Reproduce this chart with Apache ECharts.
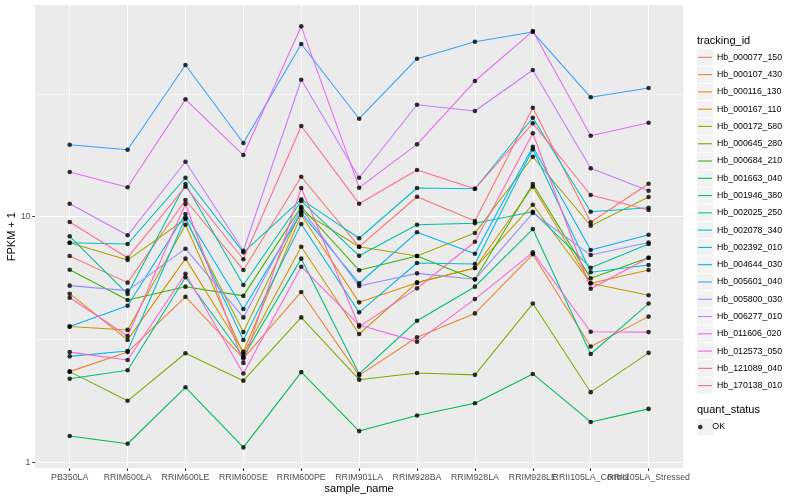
<!DOCTYPE html>
<html>
<head>
<meta charset="utf-8">
<script src="https://cdn.jsdelivr.net/npm/echarts@6/dist/echarts.min.js"></script>
<style>
html,body{margin:0;padding:0;background:#fff;}
#chart{width:800px;height:500px;}
</style>
</head>
<body>
<div id="chart"></div>
<script>
// ---- data ----
const categories = ["PB350LA","RRIM600LA","RRIM600LE","RRIM600SE","RRIM600PE","RRIM901LA","RRIM928BA","RRIM928LA","RRIM928LE","RRII105LA_Control","RRII105LA_Stressed"];
const trackingIds = ["Hb_000077_150","Hb_000107_430","Hb_000116_130","Hb_000167_110","Hb_000172_580","Hb_000645_280","Hb_000684_210","Hb_001663_040","Hb_001946_380","Hb_002025_250","Hb_002078_340","Hb_002392_010","Hb_004644_030","Hb_005601_040","Hb_005800_030","Hb_006277_010","Hb_011606_020","Hb_012573_050","Hb_121089_040","Hb_170138_010"];
const colors = ["#F8766D","#EA8331","#D89000","#C09B00","#A3A500","#7CAE00","#39B600","#00BB4E","#00BF7D","#00C1A3","#00BFC4","#00BAE0","#00B0F6","#35A2FF","#9590FF","#C77CFF","#E76BF3","#FA62DB","#FF62BC","#FF6C91"];

const hb_000077_150 = [6.92, 5.39, 11.70, 6.07, 14.55, 7.55, 12.06, 9.61, 27.78, 9.49, 13.63];
const hb_000107_430 = [2.34, 2.81, 4.72, 2.65, 4.94, 2.26, 3.23, 4.04, 7.03, 2.96, 3.92];
const hb_000116_130 = [4.86, 3.15, 6.75, 2.82, 10.16, 4.48, 5.39, 6.18, 13.25, 5.36, 6.07];
const hb_000167_110 = [3.57, 3.46, 9.28, 2.76, 7.55, 3.33, 5.39, 6.18, 11.19, 5.36, 4.79];
const hb_000172_580 = [7.84, 6.66, 9.79, 3.39, 10.55, 7.55, 6.92, 8.58, 17.55, 9.19, 12.03];
const hb_000645_280 = [2.34, 1.78, 2.78, 2.15, 3.89, 2.17, 2.31, 2.27, 4.43, 1.93, 2.79];
const hb_000684_210 = [6.08, 4.58, 5.19, 4.76, 10.98, 6.05, 6.92, 5.56, 13.59, 5.61, 6.81];
const hb_001663_040 = [1.28, 1.19, 2.02, 1.15, 2.33, 1.34, 1.55, 1.74, 2.29, 1.46, 1.65];
const hb_001946_380 = [2.19, 2.37, 5.67, 2.69, 6.75, 2.29, 3.77, 5.19, 8.91, 2.76, 4.43];
const hb_002025_250 = [8.32, 4.85, 13.59, 5.27, 11.59, 6.93, 9.28, 9.40, 10.48, 6.20, 7.74];
const hb_002078_340 = [7.84, 7.74, 14.41, 7.16, 11.77, 8.17, 13.09, 13.00, 25.30, 10.48, 10.88];
const hb_002392_010 = [2.70, 2.84, 9.91, 3.15, 9.34, 4.08, 6.48, 6.42, 18.81, 5.94, 6.36];
const hb_004644_030 = [3.57, 4.34, 10.26, 4.21, 10.35, 5.36, 8.64, 7.07, 19.28, 7.32, 8.45];
const hb_005601_040 = [19.64, 18.74, 41.47, 19.96, 50.49, 25.06, 43.99, 51.58, 56.49, 30.64, 33.42];
const hb_005800_030 = [5.24, 5.00, 7.41, 3.89, 10.82, 5.22, 5.88, 5.56, 10.35, 6.98, 7.85];
const hb_006277_010 = [11.30, 8.40, 16.75, 7.27, 36.13, 14.41, 28.58, 26.94, 39.57, 15.74, 12.76];
const hb_011606_020 = [15.21, 13.18, 30.06, 17.83, 59.60, 13.13, 19.71, 35.69, 57.03, 21.37, 24.14];
const hb_012573_050 = [2.81, 2.61, 5.86, 2.30, 6.26, 3.62, 3.10, 4.62, 7.16, 3.40, 3.39];
const hb_121089_040 = [4.68, 3.27, 11.27, 2.54, 13.09, 3.57, 5.11, 7.91, 21.86, 5.09, 6.81];
const hb_170138_010 = [9.52, 6.81, 13.25, 6.71, 23.40, 11.30, 15.49, 13.00, 24.01, 12.26, 10.65];

const seriesValues = [hb_000077_150, hb_000107_430, hb_000116_130, hb_000167_110, hb_000172_580,
  hb_000645_280, hb_000684_210, hb_001663_040, hb_001946_380, hb_002025_250, hb_002078_340,
  hb_002392_010, hb_004644_030, hb_005601_040, hb_005800_030, hb_006277_010, hb_011606_020,
  hb_012573_050, hb_121089_040, hb_170138_010];

const quantStatus = ["OK"];
const yTicks = [1, 10];
const yMinorTicks = [3.1623, 31.623];
const yMin = 0.9453;
const yMax = 72.8;

// ---- layout / style ----
const FONT = "Liberation Sans";
const legendTop1 = 57.33;
const legendStep = 17.28;
const legendTop2 = 427;

const chart = echarts.init(document.getElementById('chart'), null, {renderer: 'canvas'});

const lineSeries = seriesValues.map((vals, i) => ({
  type: 'line',
  name: trackingIds[i],
  xAxisIndex: 1,
  yAxisIndex: 2,
  data: vals,
  symbol: 'none',
  showSymbol: false,
  silent: true,
  z: 2,
  lineStyle: {color: colors[i], width: 1.07},
  itemStyle: {color: colors[i]},
  emphasis: {disabled: true}
}));

const pointData = [];
seriesValues.forEach(vals => vals.forEach((v, j) => pointData.push([categories[j], v])));

const graphics = [];
trackingIds.forEach((id, i) => {
  graphics.push({type: 'rect', silent: true, z: 0,
    shape: {x: 697, y: legendTop1 + i * legendStep - 8.14, width: 16, height: 16.28},
    style: {fill: '#f2f2f2'}});
});
graphics.push({type: 'rect', silent: true, z: 0,
  shape: {x: 697, y: legendTop2 - 8.14, width: 16, height: 16.28}, style: {fill: '#f2f2f2'}});
graphics.push({type: 'text', silent: true, x: 697, y: 40.5,
  style: {text: 'tracking_id', fontSize: 11, fontFamily: FONT, fill: '#000', verticalAlign: 'middle'}});
graphics.push({type: 'text', silent: true, x: 697, y: 410.4,
  style: {text: 'quant_status', fontSize: 11, fontFamily: FONT, fill: '#000', verticalAlign: 'middle'}});

const option = {
  animation: false,
  backgroundColor: '#ffffff',
  textStyle: {fontFamily: FONT},
  graphic: graphics,
  grid: [
    {left: 35, right: 116.7, top: 5, bottom: 31.7, show: true, backgroundColor: '#ebebeb', borderWidth: 0, outerBoundsMode: 'none', containLabel: false},
    {left: 69.7, right: 151.4, top: 5, bottom: 31.7, outerBoundsMode: 'none', containLabel: false}
  ],
  xAxis: [
    {gridIndex: 0, type: 'value', min: 0, max: 1, show: false},
    {gridIndex: 1, type: 'category', data: categories, boundaryGap: false,
      axisLine: {show: false},
      axisTick: {show: true, length: 2.75, lineStyle: {color: '#333333', width: 1.07}},
      axisLabel: {interval: 0, hideOverlap: false, color: '#4d4d4d', fontSize: 8.8, margin: 4.5, fontFamily: FONT},
      splitLine: {show: true, lineStyle: {color: '#ffffff', width: 1.07}},
      name: 'sample_name', nameLocation: 'middle', nameGap: 15.5, nameMoveOverlap: false,
      nameTextStyle: {fontSize: 11, color: '#000', fontFamily: FONT}
    }
  ],
  yAxis: [
    {gridIndex: 0, type: 'log', logBase: 10, min: yMin, max: yMax, position: 'left', offset: 0,
      axisLine: {show: false},
      axisTick: {show: false, customValues: yMinorTicks},
      axisLabel: {show: false, customValues: yMinorTicks},
      splitLine: {show: true, lineStyle: {color: '#ffffff', width: 0.55}}
    },
    {gridIndex: 0, type: 'log', logBase: 10, min: yMin, max: yMax, position: 'left', offset: 0,
      axisLine: {show: false},
      axisTick: {show: true, length: 2.75, lineStyle: {color: '#333333', width: 1.07}, customValues: yTicks},
      axisLabel: {color: '#4d4d4d', fontSize: 8.8, margin: 4.5, fontFamily: FONT, customValues: yTicks},
      splitLine: {show: true, lineStyle: {color: '#ffffff', width: 1.07}},
      name: 'FPKM + 1', nameLocation: 'middle', nameGap: 18, nameMoveOverlap: false,
      nameTextStyle: {fontSize: 11, color: '#000', fontFamily: FONT}
    },
    {gridIndex: 1, type: 'log', logBase: 10, min: yMin, max: yMax, show: false}
  ],
  legend: [
    {data: trackingIds, orient: 'vertical', left: 698, top: legendTop1 - legendStep / 2,
      padding: 0, itemGap: 0, itemWidth: 14, itemHeight: 1.1, icon: 'rect', selectedMode: false,
      textStyle: {fontSize: 8.8, lineHeight: legendStep, color: '#000', fontFamily: FONT}},
    {data: quantStatus, orient: 'vertical', left: 698, top: legendTop2 - legendStep / 2,
      padding: 0, itemGap: 0, itemWidth: 14, itemHeight: 4.6, icon: 'circle', selectedMode: false,
      textStyle: {fontSize: 8.8, lineHeight: legendStep, color: '#000', fontFamily: FONT}}
  ],
  series: lineSeries.concat([
    {type: 'scatter', name: quantStatus[0], xAxisIndex: 1, yAxisIndex: 2, data: pointData,
      symbol: 'circle', symbolSize: 4.6, silent: true, z: 3,
      itemStyle: {color: '#000000'}, emphasis: {disabled: true}}
  ])
};
chart.setOption(option);
</script>
</body>
</html>
